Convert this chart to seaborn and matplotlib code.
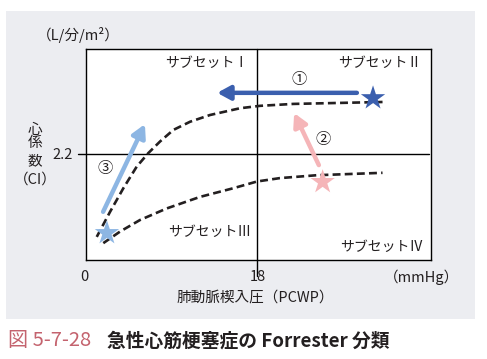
import numpy as np
import pandas as pd
import matplotlib
matplotlib.use("Agg")
import matplotlib.pyplot as plt
import seaborn as sns

# curve readings (PCWP mmHg, CI L/min/m2)
upper_x = [1.13, 2.53, 3.93, 5.34, 6.56, 7.79, 9.19, 10.95, 13.05, 16.2, 18.3, 21.8, 26.5, 31.2]
upper_y = [0.48, 1.00, 1.49, 1.94, 2.22, 2.46, 2.70, 2.87, 3.01, 3.15, 3.20, 3.24, 3.26, 3.28]
lower_x = [1.82, 3.58, 5.68, 8.49, 12.0, 15.5, 18.0, 20.4, 24.3, 31.2]
lower_y = [0.35, 0.59, 0.83, 1.07, 1.31, 1.49, 1.63, 1.70, 1.76, 1.81]

# patient states (stars) and therapy arrows (tail -> head)
star_x = [30.2, 24.9, 2.2]
star_y = [3.36, 1.62, 0.56]
arrow_tail = [(28.5, 3.47), (24.5, 1.97), (1.8, 1.00)]
arrow_head = [(13.8, 3.47), (21.9, 3.05), (6.2, 2.82)]
arrow_labels = ["①", "②", "③"]
arrow_label_pos = [(22.4, 3.75), (24.9, 2.5), (2.0, 1.9)]
colors = ["#3B5FAE", "#F5B5B8", "#8DB6E3"]

subsets = ["サブセットⅠ", "サブセットⅡ", "サブセットⅢ", "サブセットⅣ"]
subset_pos = [(12.7, 4.1), (30.9, 4.1), (13.0, 0.58), (31.1, 0.27)]

sns.set_style("white")
plt.rcParams['font.family'] = ['Noto Sans CJK JP', 'DejaVu Sans']

fig = plt.figure(figsize=(4.87, 3.59), dpi=100)
W, H = 487, 359

# gray panel behind everything
bg = fig.add_axes([6 / W, 1 - 319 / H, 469 / W, 308 / H], zorder=0)
bg.set_facecolor("#ECEDF1")
bg.set_xticks([])
bg.set_yticks([])
for s in bg.spines.values():
    s.set_visible(False)

ax = fig.add_axes([86 / W, 1 - 260 / H, 345 / W, 211 / H], zorder=1)
ax.set_facecolor("white")
ax.set_xlim(0, 36.3)
ax.set_ylim(0, 4.38)
for s in ax.spines.values():
    s.set_color("black")
    s.set_linewidth(1.0)
ax.set_xticks([])
ax.set_yticks([])

# quadrant lines with ticks outside the frame
ax.plot([-0.85, 36.1], [2.2, 2.2], color="black", lw=1.0, clip_on=False)
ax.plot([18, 18], [-0.33, 4.38], color="black", lw=1.0, clip_on=False)

df_u = pd.DataFrame({"x": upper_x, "y": upper_y})
df_l = pd.DataFrame({"x": lower_x, "y": lower_y})
for d in (df_u, df_l):
    sns.lineplot(data=d, x="x", y="y", ax=ax, color="#231F20", lw=1.9,
                 sort=False, linestyle=(0, (3.0, 1.6)))

for (tx, ty), (hx, hy), c in zip(arrow_tail, arrow_head, colors):
    ax.annotate("", xy=(hx, hy), xytext=(tx, ty),
                arrowprops=dict(arrowstyle="-|>,head_length=0.55,head_width=0.3",
                                color=c, lw=3.2, shrinkA=0, shrinkB=0,
                                mutation_scale=14))

sns.scatterplot(x=star_x, y=star_y, ax=ax, marker="*", s=340,
                hue=list(range(3)), palette=colors, legend=False,
                edgecolor="none", zorder=5)

for lab, (lx, ly) in zip(arrow_labels, arrow_label_pos):
    ax.text(lx, ly, lab, fontsize=11, ha="center", va="center", color="#231F20")

for lab, (sx, sy) in zip(subsets, subset_pos):
    ax.text(sx, sy, lab, fontsize=10, ha="center", va="center", color="#231F20")

ax.set_xlabel("")
ax.set_ylabel("")

# axis annotations
tc = "#231F20"
fig.text(73 / W, 1 - 155 / H, "2.2", fontsize=10.5, ha="right", va="center", color=tc, zorder=3)
fig.text(84 / W, 1 - 277 / H, "0", fontsize=10.5, ha="center", va="center", color=tc, zorder=3)
fig.text(258 / W, 1 - 277 / H, "18", fontsize=10.5, ha="center", va="center", color=tc, zorder=3)
fig.text(422 / W, 1 - 277 / H, "（mmHg）", fontsize=10.5, ha="center", va="center", color=tc, zorder=3)
fig.text(255 / W, 1 - 298 / H, "肺動脈楔入圧（PCWP）", fontsize=10.5, ha="center", va="center", color=tc, zorder=3)
fig.text(78 / W, 1 - 35 / H, "（L/分/m²）", fontsize=10.5, ha="center", va="center", color=tc, zorder=3)
for ch, yy in zip(["心", "係", "数"], [130, 143, 161]):
    fig.text(35 / W, 1 - yy / H, ch, fontsize=10.5, ha="center", va="center", color=tc, zorder=3)
fig.text(35 / W, 1 - 180 / H, "（CI）", fontsize=10.5, ha="center", va="center", color=tc, zorder=3)

# caption
fig.text(8 / W, 1 - 341 / H, "図 5-7-28", fontsize=14.5, ha="left", va="center", color="#C4636E")
fig.text(107 / W, 1 - 341 / H, "急性心筋梗塞症の Forrester 分類", fontsize=13.5,
         ha="left", va="center", color=tc, fontweight="bold")

fig.savefig("out.png", dpi=100)
